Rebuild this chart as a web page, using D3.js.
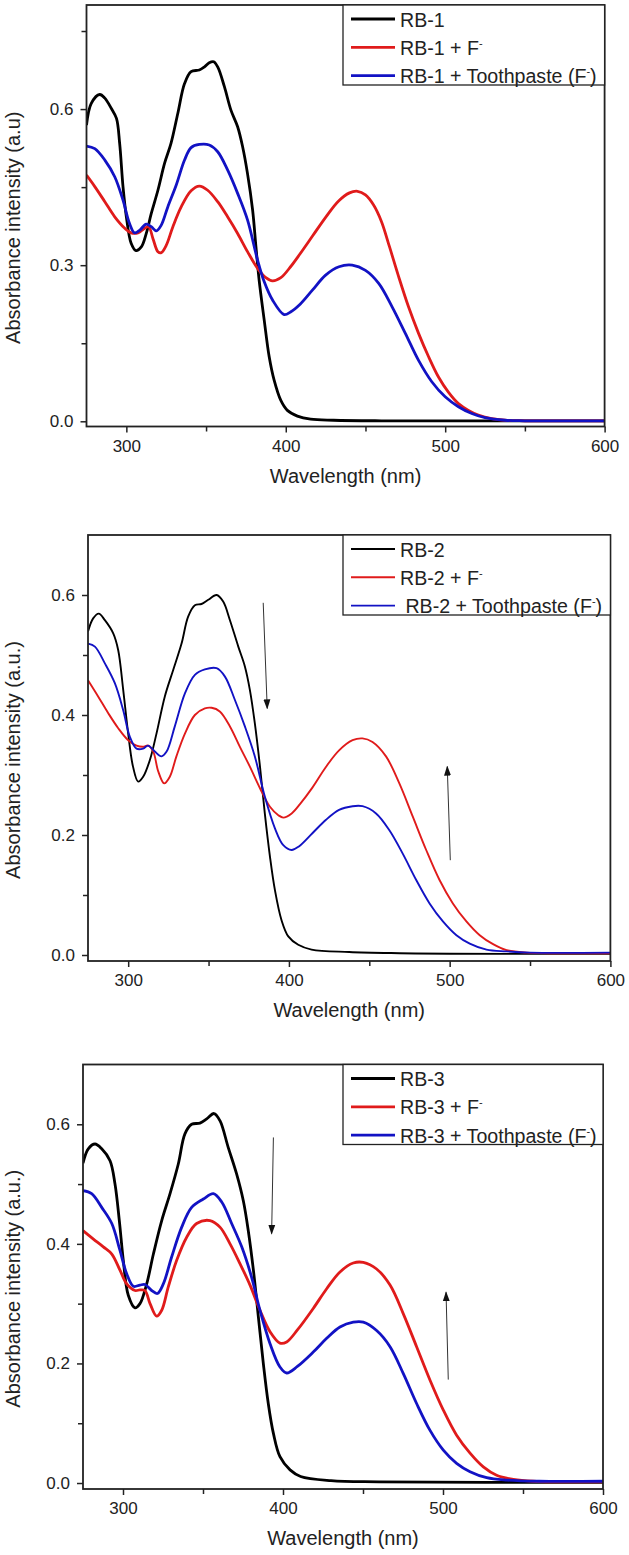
<!DOCTYPE html>
<html>
<head>
<meta charset="utf-8">
<script src="https://cdnjs.cloudflare.com/ajax/libs/d3/7.8.5/d3.min.js"></script>
<style>
  body { margin: 0; background: #fff; }
  svg { display: block; font-family: "Liberation Sans", Arial, sans-serif; }
</style>
</head>
<body>
<div id="chart"></div>
<script>
////////////////////// data //////////////////////////////
var xMajor = [300, 400, 500, 600];
var xMinor = [350, 450, 550];

var yMajor1 = [0, 0.3, 0.6];
var yMinor1 = [0.15, 0.45, 0.75];
var yMajor23 = [0, 0.2, 0.4, 0.6];
var yMinor23 = [0.1, 0.3, 0.5];

var legend1 = ["RB-1", "RB-1 + F⁻", "RB-1 + Toothpaste (F⁻)"];
var legend2 = ["RB-2", "RB-2 + F⁻", " RB-2 + Toothpaste (F⁻)"];
var legend3 = ["RB-3", "RB-3 + F⁻", "RB-3 + Toothpaste (F⁻)"];

// [wavelength nm, absorbance]
var rb1Pure = [[275,0.569],[278,0.611],[283.3,0.628],[286.5,0.621],[290.6,0.601],[293.8,0.582],[295.8,0.534],[297.9,0.451],[300,0.393],[303,0.342],[306,0.328],[309.4,0.335],[312.5,0.361],[315.6,0.399],[319.8,0.444],[324,0.496],[328,0.534],[332.3,0.592],[336.5,0.649],[340.6,0.672],[345.8,0.675],[349,0.681],[352,0.689],[354.8,0.691],[357.3,0.681],[361.5,0.643],[365.6,0.598],[369.8,0.566],[372.9,0.528],[376,0.476],[379.2,0.406],[381.3,0.335],[383.3,0.271],[386.5,0.194],[389.6,0.124],[392.7,0.079],[396.9,0.04],[401,0.021],[407.3,0.01],[415.6,0.004],[430,0.002],[460,0.001],[600,0.001]];
var rb1F = [[275,0.473],[280.2,0.451],[286.5,0.422],[292.7,0.393],[299,0.371],[303,0.362],[307.3,0.362],[311.5,0.371],[314,0.374],[316.7,0.351],[319.8,0.326],[321.9,0.324],[325,0.338],[329.2,0.374],[334.4,0.412],[340.6,0.443],[345.8,0.452],[351,0.444],[357.3,0.422],[363.5,0.393],[369.8,0.361],[376,0.326],[382.3,0.294],[387.5,0.276],[391.7,0.27],[396.9,0.276],[403,0.297],[409,0.322],[417,0.357],[425,0.392],[433,0.423],[440,0.439],[445,0.442],[450,0.435],[455,0.416],[460,0.384],[465,0.336],[470.8,0.278],[477,0.22],[483.3,0.169],[489.6,0.124],[495.8,0.085],[502,0.056],[508.3,0.034],[514.6,0.021],[520.8,0.012],[529.2,0.005],[537.5,0.002],[550,0.001],[600,0.001]];
var rb1Paste = [[275,0.529],[280.2,0.524],[286.5,0.502],[292.7,0.47],[297.9,0.425],[302,0.38],[305.2,0.362],[308.3,0.367],[312.5,0.379],[315.6,0.374],[318.8,0.366],[321.9,0.377],[326,0.412],[331.3,0.454],[336.5,0.502],[340.6,0.526],[345.8,0.532],[352,0.531],[357.3,0.518],[363.5,0.483],[369.8,0.438],[376,0.387],[382.3,0.31],[386.5,0.268],[391.7,0.233],[399,0.205],[403,0.21],[409,0.225],[416.7,0.252],[425,0.281],[433.4,0.297],[441.7,0.3],[450,0.29],[458.3,0.265],[466.7,0.22],[475,0.169],[483.3,0.117],[491.6,0.076],[500,0.047],[508.3,0.028],[516.7,0.015],[525,0.007],[537.5,0.002],[550,0.001],[600,0.001]];

var rb2Pure = [[275,0.539],[278.2,0.561],[281.7,0.569],[285.5,0.558],[290.7,0.536],[293.8,0.508],[296.9,0.442],[300,0.369],[303,0.314],[306.2,0.289],[309.3,0.297],[313.5,0.325],[317.6,0.369],[322.8,0.431],[328,0.475],[333.2,0.519],[337.3,0.564],[341.5,0.583],[345.6,0.585],[349.8,0.592],[355,0.6],[359.1,0.589],[363.3,0.558],[368.5,0.514],[372.6,0.481],[375.7,0.442],[378.8,0.386],[382,0.314],[385,0.236],[388.2,0.164],[391.3,0.108],[395.4,0.058],[399.6,0.031],[405.8,0.017],[414.1,0.009],[437.5,0.005],[468.8,0.003],[500,0.002],[600,0.002]];
var rb2F = [[275,0.458],[281.3,0.431],[287.6,0.403],[293.8,0.378],[300,0.358],[305.2,0.349],[309.3,0.347],[312.4,0.349],[315.6,0.339],[318.7,0.306],[322.4,0.286],[325.9,0.297],[330,0.331],[335.3,0.369],[341.5,0.4],[347.7,0.411],[351.9,0.412],[357,0.406],[363.3,0.381],[369.5,0.347],[375.7,0.314],[382,0.278],[388.2,0.247],[393.4,0.233],[396.5,0.229],[401.7,0.236],[407,0.252],[414.6,0.279],[422.9,0.313],[431.2,0.341],[439.6,0.358],[445.8,0.361],[452,0.355],[460.4,0.331],[468.7,0.286],[477,0.231],[485.4,0.175],[493.7,0.125],[502,0.086],[510.4,0.056],[518.7,0.033],[527,0.018],[535.4,0.008],[547.9,0.004],[600,0.003]];
var rb2Paste = [[275,0.519],[279.3,0.514],[285.5,0.486],[291.7,0.453],[296.9,0.408],[301,0.364],[305.2,0.344],[309.3,0.344],[312.4,0.349],[316.6,0.339],[320.7,0.331],[323.9,0.339],[329,0.381],[335.3,0.436],[341.5,0.467],[347.7,0.476],[355,0.478],[360.2,0.464],[366.4,0.425],[372.6,0.381],[378.8,0.331],[385,0.264],[391.3,0.211],[396.5,0.183],[401.7,0.175],[406.2,0.181],[414.6,0.203],[422.9,0.225],[431.2,0.242],[439.6,0.248],[445.8,0.248],[454.2,0.236],[462.5,0.208],[470.8,0.169],[479.2,0.125],[487.5,0.086],[495.8,0.056],[504.2,0.033],[512.5,0.019],[522.9,0.009],[535.4,0.006],[550,0.004],[600,0.004]];

var rb3Pure = [[275,0.535],[278.3,0.559],[282.5,0.567],[286.7,0.559],[291.9,0.539],[295,0.5],[297.7,0.439],[300.2,0.372],[303.3,0.314],[307.5,0.293],[310.6,0.3],[314.8,0.333],[319,0.383],[324.2,0.439],[329.4,0.484],[334.6,0.534],[338.7,0.584],[342.9,0.6],[348.1,0.602],[352.3,0.609],[356.9,0.618],[360.6,0.606],[365.8,0.561],[371,0.517],[375.2,0.472],[378.3,0.422],[381.5,0.356],[384.6,0.278],[387.7,0.2],[390.8,0.133],[394,0.083],[398.1,0.044],[404.4,0.022],[411,0.011],[430,0.004],[460,0.002],[600,0.001]];
var rb3F = [[275,0.422],[281.5,0.408],[287.7,0.395],[293,0.383],[298.1,0.356],[302.3,0.333],[307.5,0.322],[310.6,0.323],[313.7,0.322],[316.9,0.3],[321,0.279],[324.2,0.289],[328.3,0.328],[333.5,0.372],[339.8,0.411],[346,0.434],[354.4,0.439],[360.6,0.428],[366.9,0.4],[373.1,0.367],[379.4,0.331],[385.6,0.289],[391.9,0.253],[398.1,0.234],[402.3,0.236],[409,0.256],[418.9,0.292],[427.3,0.325],[435.6,0.353],[443.9,0.368],[450.2,0.369],[458.5,0.358],[466.9,0.331],[475.2,0.283],[483.5,0.228],[491.9,0.172],[500.2,0.122],[508.5,0.08],[516.9,0.05],[525.2,0.027],[533.5,0.013],[544,0.006],[556.4,0.003],[600,0.002]];
var rb3Paste = [[275,0.489],[280.4,0.484],[286.7,0.461],[293,0.434],[298.1,0.389],[302.3,0.35],[306.5,0.329],[310.6,0.331],[313.7,0.332],[317.9,0.322],[321.5,0.317],[325.2,0.333],[330.4,0.378],[336.7,0.428],[342.9,0.461],[350.2,0.475],[356.5,0.484],[361.7,0.47],[367.9,0.434],[374.2,0.395],[380.4,0.344],[385.6,0.289],[391.9,0.233],[398.1,0.194],[402.3,0.184],[409,0.195],[418.9,0.219],[427.3,0.242],[435.6,0.261],[443.9,0.269],[450.2,0.269],[458.5,0.255],[466.9,0.228],[475.2,0.183],[483.5,0.133],[491.9,0.088],[500.2,0.055],[508.5,0.033],[516.9,0.019],[527.3,0.009],[540,0.005],[560,0.003],[600,0.003]];

// arrows: [tail, head] in data units
var arrows2 = [[[384, 0.587], [386.5, 0.411]], [[500.4, 0.158], [498.5, 0.314]]];
var arrows3 = [[[394, 0.578], [392.9, 0.417]], [[503.3, 0.173], [501.9, 0.319]]];

var colors = ["#000000", "#e01b1b", "#1212c4"];

////////////////////// layout /////////////////////////////////////////////////////
var panels = [
  { left: 86.5, right: 604.6, top: 5, bottom: 426.5, yDomain: [-0.01, 0.80],
    yMajor: yMajor1, yMinor: yMinor1, series: [rb1Pure, rb1F, rb1Paste],
    legend: legend1, lw: 2.8, yTitle: "Absorbance intensity (a.u)", arrows: [] },
  { left: 88, right: 610.4, top: 535, bottom: 961, yDomain: [-0.01, 0.70],
    yMajor: yMajor23, yMinor: yMinor23, series: [rb2Pure, rb2F, rb2Paste],
    legend: legend2, lw: 1.9, yTitle: "Absorbance intensity (a.u.)", arrows: arrows2 },
  { left: 83, right: 603, top: 1064.5, bottom: 1489, yDomain: [-0.01, 0.70],
    yMajor: yMajor23, yMinor: yMinor23, series: [rb3Pure, rb3F, rb3Paste],
    legend: legend3, lw: 2.8, yTitle: "Absorbance intensity (a.u.)", arrows: arrows3 }
];

var svg = d3.select('#chart')
  .append('svg')
    .attr('width', 629)
    .attr('height', 1555);

var defs = svg.append('defs');
defs.append('marker')
    .attr('id', 'arrowHead')
    .attr('viewBox', '0 0 10 10')
    .attr('refX', 9)
    .attr('refY', 5)
    .attr('markerWidth', 10)
    .attr('markerHeight', 10)
    .attr('markerUnits', 'userSpaceOnUse')
    .attr('orient', 'auto')
  .append('path')
    .attr('d', 'M0,1.5 L10,5 L0,8.5 Z')
    .attr('fill', '#111');

panels.forEach(drawPanel);

function drawPanel(p, idx) {
  var x = d3.scaleLinear().domain([275, 600]).range([p.left, p.right]);
  var y = d3.scaleLinear().domain(p.yDomain).range([p.bottom, p.top]);

  var g = svg.append('g').attr('class', 'panel' + (idx + 1));

  defs.append('clipPath')
      .attr('id', 'clip' + idx)
    .append('rect')
      .attr('x', p.left).attr('y', p.top)
      .attr('width', p.right - p.left).attr('height', p.bottom - p.top);

  /////////////////////  axes  /////////////////////////////////////////////////
  var xAxis = g.append('g')
      .attr('transform', 'translate(0,' + p.bottom + ')')
      .call(d3.axisBottom(x).tickValues(xMajor).tickSize(6).tickPadding(7).tickFormat(d3.format('d')));
  var xAxisMinor = g.append('g')
      .attr('transform', 'translate(0,' + p.bottom + ')')
      .call(d3.axisBottom(x).tickValues(xMinor).tickSize(5).tickFormat(''));

  var yAxis = g.append('g')
      .attr('transform', 'translate(' + p.left + ',0)')
      .call(d3.axisLeft(y).tickValues(p.yMajor).tickSize(6).tickPadding(7).tickFormat(d3.format('.1f')));
  var yAxisMinor = g.append('g')
      .attr('transform', 'translate(' + p.left + ',0)')
      .call(d3.axisLeft(y).tickValues(p.yMinor).tickSize(5).tickFormat(''));

  [xAxis, xAxisMinor, yAxis, yAxisMinor].forEach(function(a) {
    a.select('.domain').remove();
    a.selectAll('line').attr('stroke', '#222').attr('stroke-width', 1.5);
    a.selectAll('text').attr('fill', '#222').attr('font-size', 17)
      .attr('font-family', '"Liberation Sans", Arial, sans-serif');
  });

  g.append('text')
      .attr('x', (p.left + p.right) / 2)
      .attr('y', p.bottom + 51)
      .attr('text-anchor', 'middle')
      .attr('dominant-baseline', 'middle')
      .attr('font-size', 20)
      .attr('fill', '#222')
      .text('Wavelength (nm)');

  g.append('text')
      .attr('transform', 'translate(15,' + ((p.top + p.bottom) / 2 + 12) + ') rotate(-90)')
      .attr('text-anchor', 'middle')
      .attr('dominant-baseline', 'middle')
      .attr('font-size', 20)
      .attr('fill', '#222')
      .text(p.yTitle);

  /////////////////////  spectra  //////////////////////////////////////////////
  var line = d3.line()
      .x(function(d) { return x(d[0]); })
      .y(function(d) { return y(d[1]); })
      .curve(d3.curveCatmullRom.alpha(0.5));

  g.append('g')
      .attr('clip-path', 'url(#clip' + idx + ')')
    .selectAll('path')
    .data(p.series)
    .enter()
    .append('path')
      .attr('d', line)
      .attr('fill', 'none')
      .attr('stroke', function(d, i) { return colors[i]; })
      .attr('stroke-width', p.lw)
      .attr('stroke-linejoin', 'round');

  /////////////////////  arrows  ///////////////////////////////////////////////
  g.selectAll('.arrow')
    .data(p.arrows)
    .enter()
    .append('line')
      .attr('class', 'arrow')
      .attr('x1', function(d) { return x(d[0][0]); })
      .attr('y1', function(d) { return y(d[0][1]); })
      .attr('x2', function(d) { return x(d[1][0]); })
      .attr('y2', function(d) { return y(d[1][1]); })
      .attr('stroke', '#333')
      .attr('stroke-width', 1)
      .attr('marker-end', 'url(#arrowHead)');

  /////////////////////  frame  ////////////////////////////////////////////////
  g.append('rect')
      .attr('x', p.left).attr('y', p.top)
      .attr('width', p.right - p.left).attr('height', p.bottom - p.top)
      .attr('fill', 'none')
      .attr('stroke', '#222')
      .attr('stroke-width', 1.8);

  /////////////////////  legend  ///////////////////////////////////////////////
  var lgLeft = 343;
  var lg = g.append('g');
  lg.append('rect')
      .attr('x', lgLeft).attr('y', p.top)
      .attr('width', p.right - lgLeft).attr('height', 80)
      .attr('fill', '#fff')
      .attr('stroke', '#222')
      .attr('stroke-width', 1.3);

  var rows = lg.selectAll('.lgRow')
    .data(p.legend)
    .enter()
    .append('g')
      .attr('class', 'lgRow')
      .attr('transform', function(d, i) { return 'translate(0,' + (p.top + 14 + i * 28.3) + ')'; });

  rows.append('line')
      .attr('x1', lgLeft + 8).attr('x2', lgLeft + 52)
      .attr('y1', 0).attr('y2', 0)
      .attr('stroke', function(d, i) { return colors[i]; })
      .attr('stroke-width', p.lw);

  rows.append('text')
      .attr('x', lgLeft + 57)
      .attr('y', 7.5)
      .attr('font-size', 19.6)
      .attr('fill', '#222')
      .attr('xml:space', 'preserve')
      .style('white-space', 'pre')
      .each(function(d) {
        var t = d3.select(this);
        var parts = d.split('⁻');
        t.append('tspan').text(parts[0]);
        if (parts.length > 1) {
          t.append('tspan').attr('dy', -8).attr('font-size', 11).text('-');
          t.append('tspan').attr('dy', 8).text(parts[1]);
        }
      });
}
</script>
</body>
</html>
